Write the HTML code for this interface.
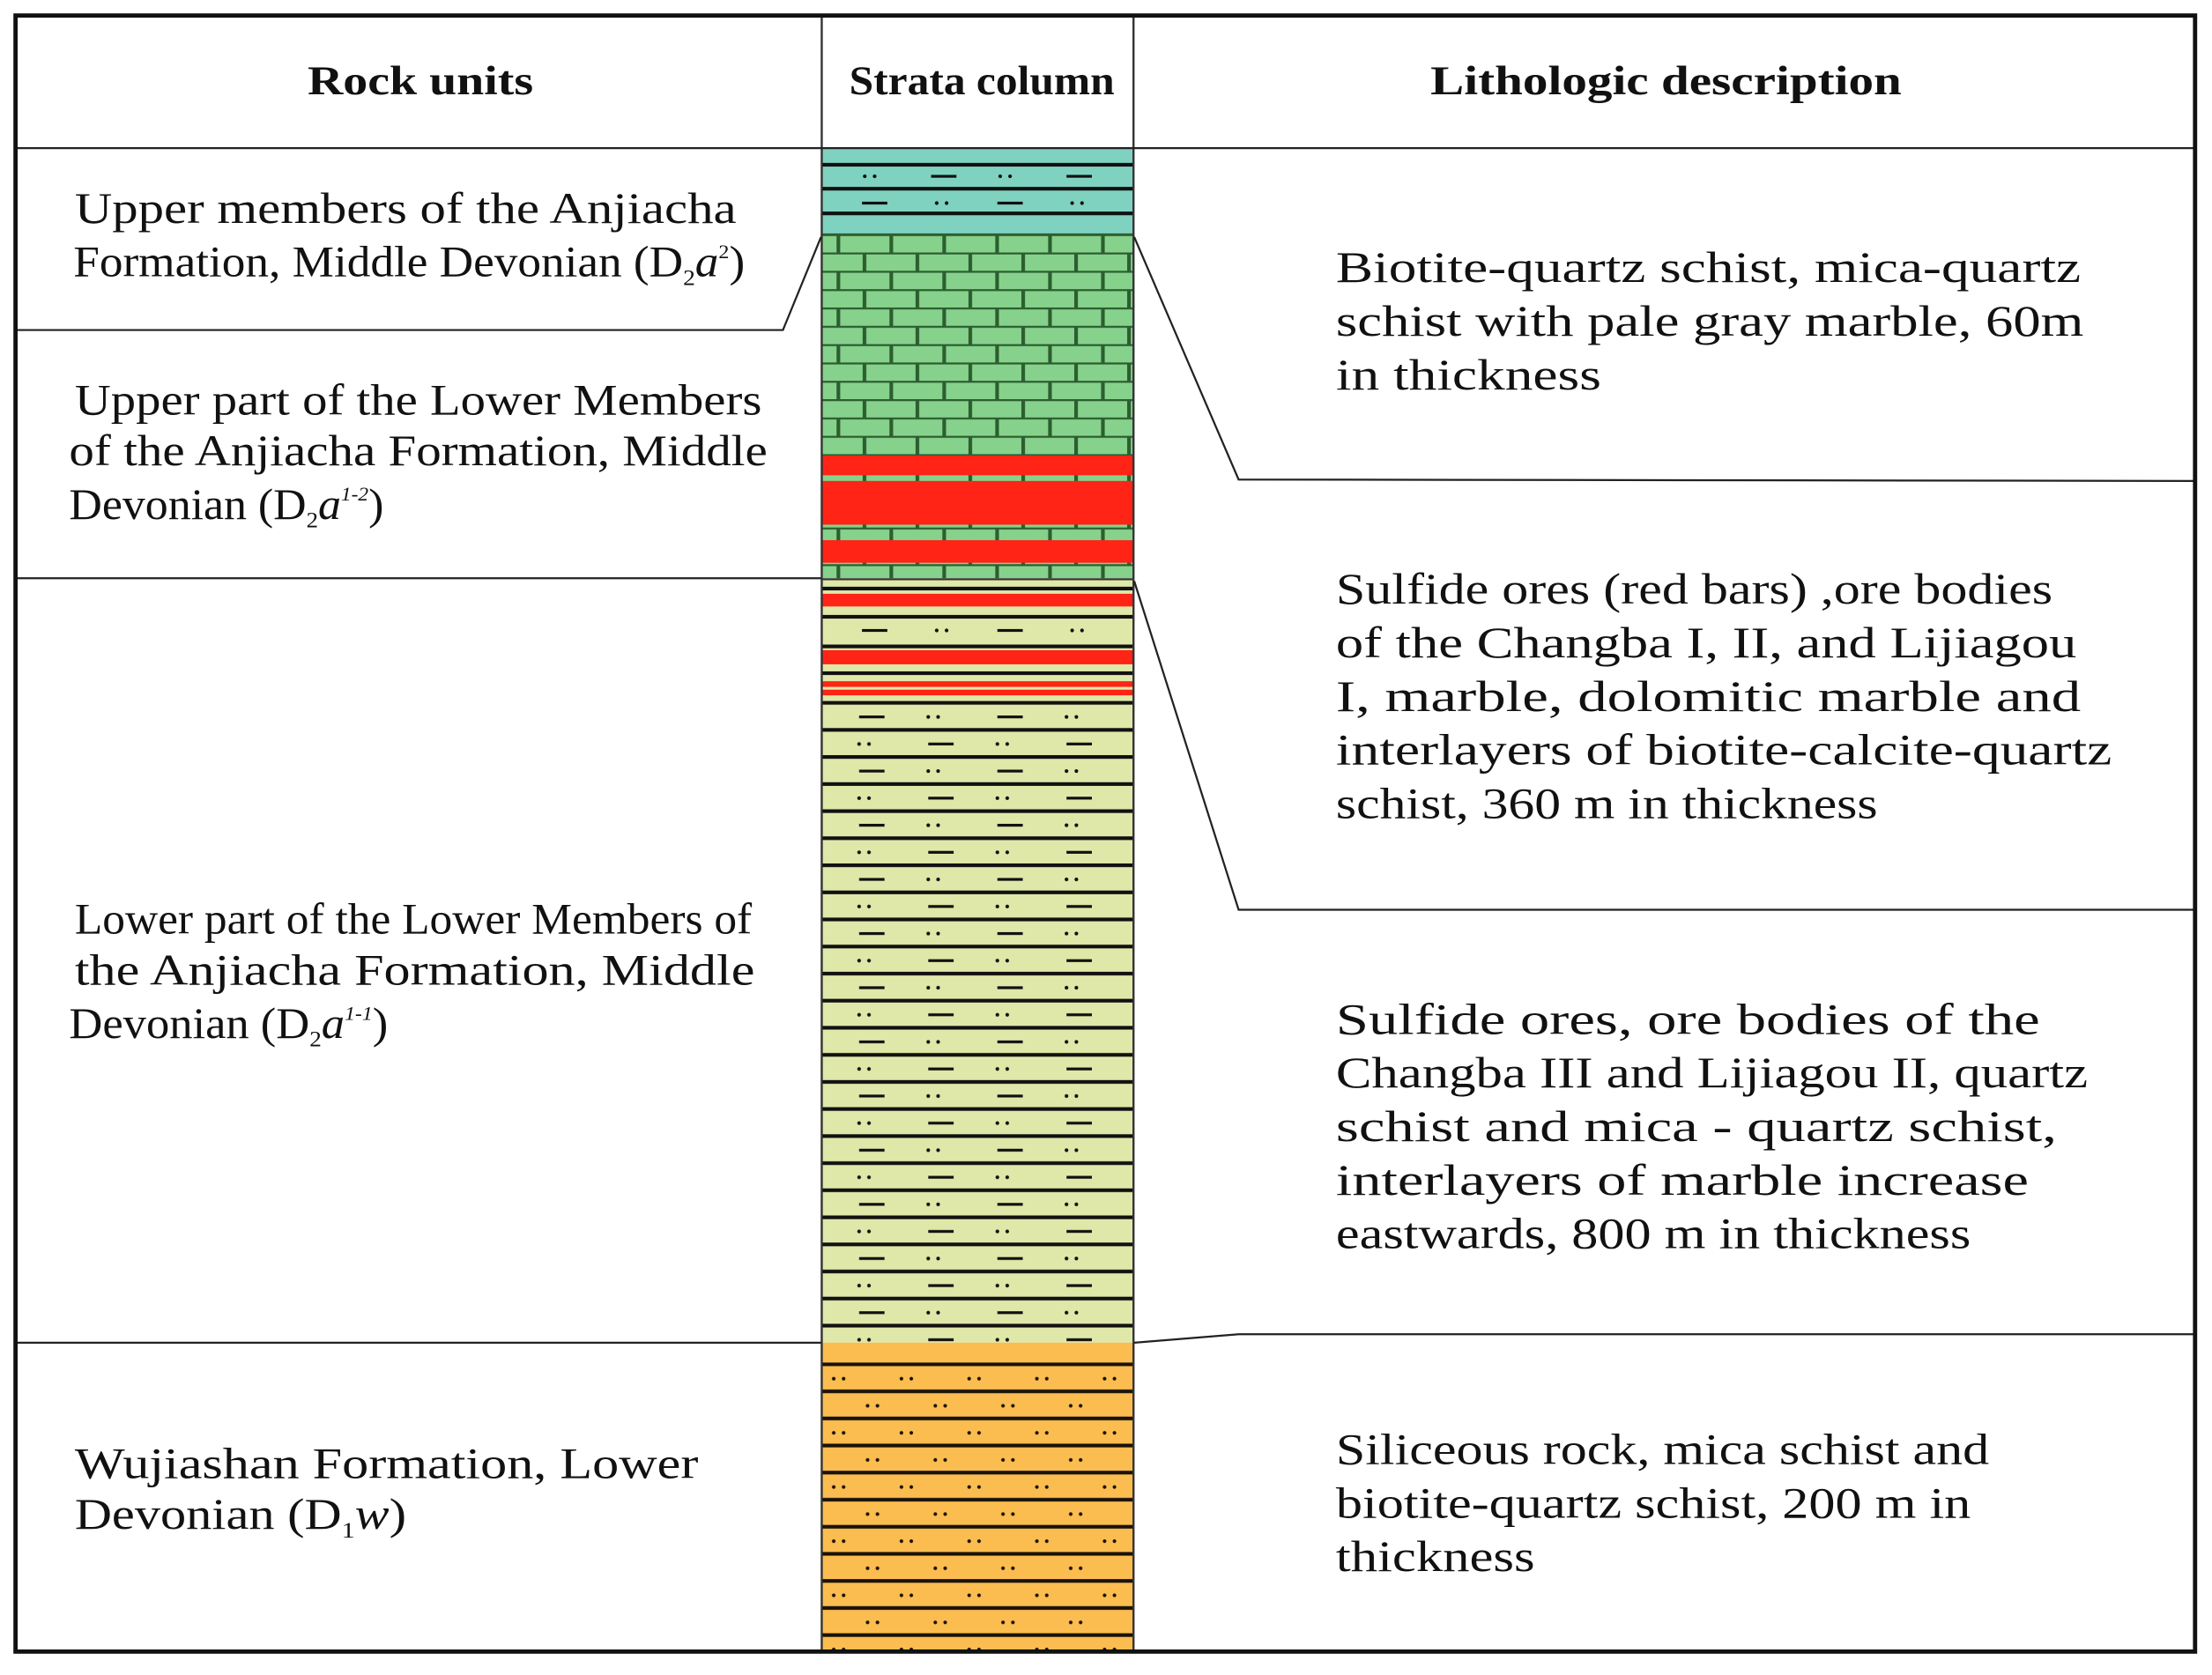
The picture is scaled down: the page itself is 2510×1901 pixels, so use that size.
<!DOCTYPE html>
<html><head><meta charset="utf-8"><style>
html,body{margin:0;padding:0;background:#fff;}
svg{display:block;}
text{font-family:"Liberation Serif","Times New Roman",serif;fill:#111;}
.h{font-weight:bold;font-size:29px;}
.t{font-size:31px;}
</style></head><body>
<svg width="2510" height="1901" viewBox="0 0 1568 1187.6" preserveAspectRatio="none" xmlns="http://www.w3.org/2000/svg" font-family="Liberation Serif, serif">
<defs>
<pattern id="brick" patternUnits="userSpaceOnUse" x="583" y="166" width="37.5" height="26">
<rect width="37.5" height="26" fill="#86d28c"/>
<rect y="0" width="37.5" height="1.4" fill="#2c5e30"/>
<rect y="13" width="37.5" height="1.4" fill="#2c5e30"/>
<rect x="10" y="0" width="2.6" height="13" fill="#2c5e30"/>
<rect x="28.5" y="13" width="2.6" height="13" fill="#2c5e30"/>
</pattern>
<pattern id="yg" patternUnits="userSpaceOnUse" x="583" y="497" width="98" height="38.4">
<rect width="98" height="38.4" fill="#dfe8a8"/>
<rect y="0" width="98" height="2.6" fill="#111"/>
<rect y="19.2" width="98" height="2.6" fill="#111"/>
<rect x="26" y="10.3" width="18" height="2" fill="#111"/>
<circle cx="75" cy="11.3" r="1.3" fill="#111"/><circle cx="82" cy="11.3" r="1.3" fill="#111"/>
<circle cx="26" cy="30.5" r="1.3" fill="#111"/><circle cx="33" cy="30.5" r="1.3" fill="#111"/>
<rect x="75" y="29.5" width="18" height="2" fill="#111"/>
</pattern>
<pattern id="or" patternUnits="userSpaceOnUse" x="583" y="966" width="48" height="38.4">
<rect width="48" height="38.4" fill="#fbbd50"/>
<rect y="0" width="48" height="2.6" fill="#1a1208"/>
<rect y="19.2" width="48" height="2.6" fill="#1a1208"/>
<circle cx="8" cy="11.5" r="1.3" fill="#1a1208"/><circle cx="15" cy="11.5" r="1.3" fill="#1a1208"/>
<circle cx="32" cy="30.7" r="1.3" fill="#1a1208"/><circle cx="39" cy="30.7" r="1.3" fill="#1a1208"/>
</pattern>
</defs>
<rect width="1568" height="1188" fill="#fff"/>

<!-- strata column -->
<rect x="583" y="105" width="220" height="61" fill="#7fd1c0"/>
<rect x="583" y="115.5" width="220" height="2.6" fill="#111"/>
<rect x="583" y="132.5" width="220" height="2.6" fill="#111"/>
<rect x="583" y="150" width="220" height="2.6" fill="#111"/>
<g fill="#111">
<circle cx="613" cy="125" r="1.3"/><circle cx="620" cy="125" r="1.3"/>
<rect x="660" y="124" width="18" height="2"/>
<circle cx="709" cy="125" r="1.3"/><circle cx="716" cy="125" r="1.3"/>
<rect x="756" y="124" width="18" height="2"/>
<rect x="611" y="143" width="18" height="2"/>
<circle cx="664" cy="144" r="1.3"/><circle cx="671" cy="144" r="1.3"/>
<rect x="707" y="143" width="18" height="2"/>
<circle cx="760" cy="144" r="1.3"/><circle cx="767" cy="144" r="1.3"/>
</g>
<rect x="583" y="166" width="220" height="244" fill="url(#brick)"/>
<rect x="583" y="165.5" width="220" height="1.4" fill="#2c5e30"/>
<rect x="583" y="323" width="220" height="14" fill="#ff2415"/>
<rect x="583" y="341" width="220" height="31" fill="#ff2415"/>
<rect x="583" y="383" width="220" height="16" fill="#ff2415"/>

<rect x="583" y="410" width="220" height="87" fill="#dfe8a8"/>
<rect x="583" y="497" width="220" height="455" fill="url(#yg)"/>
<rect x="583" y="410" width="220" height="1.4" fill="#333"/>
<rect x="583" y="416" width="220" height="2.6" fill="#111"/>
<rect x="583" y="421" width="220" height="9" fill="#ff2415"/>
<rect x="583" y="436" width="220" height="2.6" fill="#111"/>
<g fill="#111">
<rect x="611" y="446" width="18" height="2"/>
<circle cx="664" cy="447" r="1.3"/><circle cx="671" cy="447" r="1.3"/>
<rect x="707" y="446" width="18" height="2"/>
<circle cx="760" cy="447" r="1.3"/><circle cx="767" cy="447" r="1.3"/>
</g>
<rect x="583" y="457" width="220" height="2.6" fill="#111"/>
<rect x="583" y="461" width="220" height="10" fill="#ff2415"/>
<rect x="583" y="476" width="220" height="2.6" fill="#111"/>
<rect x="583" y="483" width="220" height="4" fill="#ff2415"/>
<rect x="583" y="489" width="220" height="4" fill="#ff2415"/>
<rect x="583" y="952" width="220" height="218" fill="url(#or)"/>
<rect x="583" y="952" width="220" height="14" fill="#fbbd50"/>
<line x1="582.5" y1="10" x2="582.5" y2="1171" stroke="#333" stroke-width="1.5"/>
<line x1="803.5" y1="10" x2="803.5" y2="1171" stroke="#333" stroke-width="1.5"/>

<!-- grid lines -->
<line x1="10" y1="105" x2="1557" y2="105" stroke="#222" stroke-width="1.4"/>
<polyline points="10,234 555,234 582,168" fill="none" stroke="#222" stroke-width="1.4"/>
<line x1="10" y1="410" x2="582" y2="410" stroke="#222" stroke-width="1.4"/>
<line x1="10" y1="952" x2="582" y2="952" stroke="#222" stroke-width="1.4"/>
<polyline points="804,168 878,340 1557,341" fill="none" stroke="#222" stroke-width="1.4"/>
<polyline points="804,412 878,645 1557,645" fill="none" stroke="#222" stroke-width="1.4"/>
<polyline points="804,952 878,946 1557,946" fill="none" stroke="#222" stroke-width="1.4"/>
<rect x="11" y="11" width="1545" height="1160" fill="none" stroke="#111" stroke-width="3"/>

<!-- headers -->
<text class="h" font-family="Liberation Serif, serif" x="218" y="67" textLength="160" lengthAdjust="spacingAndGlyphs">Rock units</text>
<text class="h" font-family="Liberation Serif, serif" x="602" y="67" textLength="188" lengthAdjust="spacingAndGlyphs">Strata column</text>
<text class="h" font-family="Liberation Serif, serif" x="1014" y="67" textLength="334" lengthAdjust="spacingAndGlyphs">Lithologic description</text>

<!-- left -->
<text class="t" font-family="Liberation Serif, serif" x="53" y="158" textLength="469" lengthAdjust="spacingAndGlyphs">Upper  members of the Anjiacha</text>
<text class="t" font-family="Liberation Serif, serif" x="52" y="196" textLength="476" lengthAdjust="spacingAndGlyphs">Formation, Middle Devonian (D<tspan font-size="16" dy="6">2</tspan><tspan font-style="italic" dy="-6">a</tspan><tspan font-size="14" dy="-13">2</tspan><tspan dy="13">)</tspan></text>
<text class="t" font-family="Liberation Serif, serif" x="53" y="294" textLength="487" lengthAdjust="spacingAndGlyphs">Upper part of the Lower Members</text>
<text class="t" font-family="Liberation Serif, serif" x="49" y="330" textLength="495" lengthAdjust="spacingAndGlyphs">of the Anjiacha Formation, Middle</text>
<text class="t" font-family="Liberation Serif, serif" x="49" y="368" textLength="223" lengthAdjust="spacingAndGlyphs">Devonian (D<tspan font-size="16" dy="6">2</tspan><tspan font-style="italic" dy="-6">a</tspan><tspan font-size="14" font-style="italic" dy="-13">1-2</tspan><tspan dy="13">)</tspan></text>
<text class="t" font-family="Liberation Serif, serif" x="53" y="662" textLength="480" lengthAdjust="spacingAndGlyphs">Lower part of the Lower Members of</text>
<text class="t" font-family="Liberation Serif, serif" x="53" y="698" textLength="482" lengthAdjust="spacingAndGlyphs">the Anjiacha Formation, Middle</text>
<text class="t" font-family="Liberation Serif, serif" x="49" y="736" textLength="226" lengthAdjust="spacingAndGlyphs">Devonian (D<tspan font-size="16" dy="6">2</tspan><tspan font-style="italic" dy="-6">a</tspan><tspan font-size="14" font-style="italic" dy="-13">1-1</tspan><tspan dy="13">)</tspan></text>
<text class="t" font-family="Liberation Serif, serif" x="53" y="1048" textLength="442" lengthAdjust="spacingAndGlyphs">Wujiashan Formation, Lower</text>
<text class="t" font-family="Liberation Serif, serif" x="53" y="1084" textLength="235" lengthAdjust="spacingAndGlyphs">Devonian (D<tspan font-size="16" dy="6">1</tspan><tspan font-style="italic" dy="-6">w</tspan>)</text>

<!-- right -->
<text class="t" font-family="Liberation Serif, serif" x="947" y="200" textLength="528" lengthAdjust="spacingAndGlyphs">Biotite-quartz schist, mica-quartz</text>
<text class="t" font-family="Liberation Serif, serif" x="947" y="238" textLength="530" lengthAdjust="spacingAndGlyphs">schist with pale gray marble, 60m</text>
<text class="t" font-family="Liberation Serif, serif" x="947" y="276" textLength="188" lengthAdjust="spacingAndGlyphs">in thickness</text>
<text class="t" font-family="Liberation Serif, serif" x="947" y="428" textLength="508" lengthAdjust="spacingAndGlyphs">Sulfide ores (red bars) ,ore bodies</text>
<text class="t" font-family="Liberation Serif, serif" x="947" y="466" textLength="525" lengthAdjust="spacingAndGlyphs">of the Changba I, II, and Lijiagou</text>
<text class="t" font-family="Liberation Serif, serif" x="947" y="504" textLength="528" lengthAdjust="spacingAndGlyphs">I, marble, dolomitic marble and</text>
<text class="t" font-family="Liberation Serif, serif" x="947" y="542" textLength="550" lengthAdjust="spacingAndGlyphs">interlayers of biotite-calcite-quartz</text>
<text class="t" font-family="Liberation Serif, serif" x="947" y="580" textLength="384" lengthAdjust="spacingAndGlyphs">schist, 360 m in thickness</text>
<text class="t" font-family="Liberation Serif, serif" x="947" y="733" textLength="499" lengthAdjust="spacingAndGlyphs">Sulfide ores, ore bodies of the</text>
<text class="t" font-family="Liberation Serif, serif" x="947" y="771" textLength="533" lengthAdjust="spacingAndGlyphs">Changba III and Lijiagou II, quartz</text>
<text class="t" font-family="Liberation Serif, serif" x="947" y="809" textLength="511" lengthAdjust="spacingAndGlyphs">schist and mica - quartz schist,</text>
<text class="t" font-family="Liberation Serif, serif" x="947" y="847" textLength="491" lengthAdjust="spacingAndGlyphs">interlayers of marble increase</text>
<text class="t" font-family="Liberation Serif, serif" x="947" y="885" textLength="450" lengthAdjust="spacingAndGlyphs">eastwards, 800 m in thickness</text>
<text class="t" font-family="Liberation Serif, serif" x="947" y="1038" textLength="463" lengthAdjust="spacingAndGlyphs">Siliceous rock, mica schist and</text>
<text class="t" font-family="Liberation Serif, serif" x="947" y="1076" textLength="450" lengthAdjust="spacingAndGlyphs">biotite-quartz schist, 200 m in</text>
<text class="t" font-family="Liberation Serif, serif" x="947" y="1114" textLength="141" lengthAdjust="spacingAndGlyphs">thickness</text>
</svg>
</body></html>
